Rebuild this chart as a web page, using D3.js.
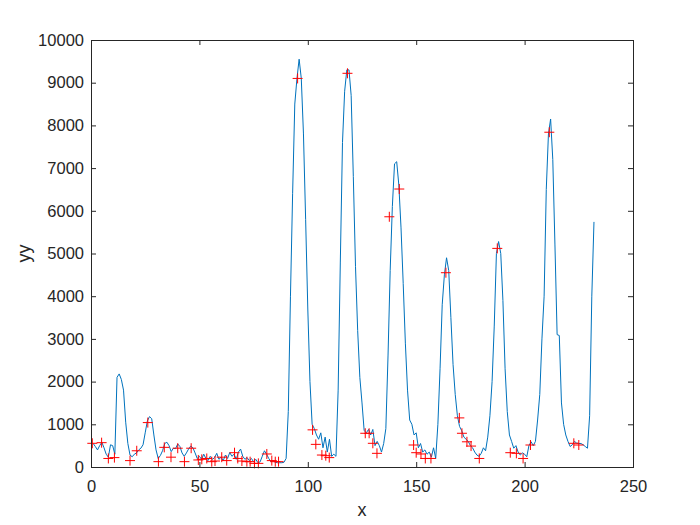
<!DOCTYPE html>
<html>
<head>
<meta charset="utf-8">
<script src="https://cdn.jsdelivr.net/npm/d3@7"></script>
<style>
  html, body { margin: 0; padding: 0; background: #ffffff; }
  svg { display: block; }
  text { font-family: "Liberation Sans", Arial, Helvetica, sans-serif; }
</style>
</head>
<body>
<svg id="chart" width="700" height="525"></svg>
<script>
// ---- data ----
const yy = [
  550,480,400,500,580,450,300,230,520,500,
  300,2100,2180,2050,1800,1050,550,280,240,300,
  330,400,440,520,800,1080,1180,1130,750,400,
  200,270,380,550,580,500,360,440,430,540,
  480,330,250,330,420,490,450,330,200,250,
  180,300,200,150,250,180,220,320,180,230,
  150,280,200,340,250,300,180,350,420,250,
  180,220,150,200,120,180,100,120,250,380,
  300,200,120,150,110,100,100,100,110,200,
  1300,4000,6400,8500,9100,9550,9100,7800,5800,3700,
  2000,1000,900,750,650,800,450,700,350,650,
  250,300,250,1800,4800,7600,8800,9300,9300,8700,
  6800,4700,3200,2100,1500,850,800,880,750,880,
  500,600,500,350,550,900,2600,4600,6100,7100,
  7150,6600,5600,4300,2900,1800,1100,1000,750,800,
  450,550,350,400,300,350,230,450,200,1000,
  2300,3800,4500,4900,4600,3500,2400,1700,1200,950,
  850,700,650,600,500,450,350,280,250,320,
  450,380,700,1200,2000,3300,5000,5280,5000,3900,
  2300,1300,750,600,440,500,350,280,330,300,
  240,500,590,500,600,1100,1700,3000,4000,6500,
  7800,8150,7200,5200,3100,3080,1500,1000,750,600,
  480,520,600,560,550,550,520,480,440,1200,
  4000,5740
];
const xs = d3.range(1, yy.length + 1);

const peakX = [
  0.6, 4.9, 8.0, 10.8, 18.0, 21.1, 26.2, 31.1, 33.8, 36.9, 40.0, 43.1, 46.2,
  49.5, 51.1, 53.4, 55.7, 57.2, 60.3, 62.6, 66.2, 67.7, 69.6, 71.9, 73.4, 75.4, 77.2,
  81.1, 83.4, 85.0, 86.5,
  95.3, 102.2, 103.7, 106.5, 108.3, 109.9,
  118.3, 126.5, 128.3, 130.0, 131.9,
  137.6, 142.2, 148.8, 150.0, 152.2, 154.2, 156.8,
  163.7, 169.9, 171.1, 173.4, 175.3, 179.1,
  187.4, 193.4, 196.2, 199.3, 202.7,
  211.4, 222.7, 225.0
];
const peakY = [
  555, 570, 200, 220, 150, 380, 1040, 125, 460, 230, 440, 125, 440,
  165, 180, 200, 125, 140, 230, 150, 335, 200, 140, 125, 125, 85, 85,
  305, 150, 125, 125,
  9100, 870, 530, 280, 265, 220,
  9220, 790, 790, 555, 320,
  5860, 6510, 515, 335, 305, 200, 200,
  4550, 1150, 790, 590, 490, 200,
  5120, 335, 320, 200, 515,
  7840, 555, 515
];

const xTicks = [0, 50, 100, 150, 200, 250];
const yTicks = [0, 1000, 2000, 3000, 4000, 5000, 6000, 7000, 8000, 9000, 10000];
const xLabel = "x";
const yLabel = "yy";

// ---- layout ----
const L = 91, R = 633, T = 40, B = 467;
const axisColor = "#262626";
const svg = d3.select("#chart");

const x = d3.scaleLinear().domain([0, 250]).range([L, R]);
const y = d3.scaleLinear().domain([0, 10000]).range([B, T]);

svg.append("rect").attr("width", 700).attr("height", 525).attr("fill", "#ffffff");

// line
const line = d3.line().x((d, i) => x(xs[i])).y(d => y(d));
svg.append("path")
  .datum(yy)
  .attr("d", line)
  .attr("fill", "none")
  .attr("stroke", "#0072BD")
  .attr("stroke-width", 1)
  .attr("stroke-linejoin", "round");

// markers
svg.append("g").selectAll("path")
  .data(peakX)
  .join("path")
  .attr("transform", (d, i) => `translate(${x(d)},${y(peakY[i])})`)
  .attr("d", "M-5,0H5M0,-5V5")
  .attr("stroke", "#FF0000")
  .attr("stroke-width", 1)
  .attr("fill", "none");

// axes
const fmt = d3.format("d");
function styleAxis(g) {
  g.select(".domain").remove();
  g.selectAll("line").attr("stroke", axisColor);
  g.selectAll("text").attr("fill", axisColor).style("font-size", "16.5px");
}
svg.append("g").attr("transform", `translate(0,${B})`)
  .call(d3.axisBottom(x).tickValues(xTicks).tickFormat(fmt).tickSizeInner(-5).tickSizeOuter(0).tickPadding(13))
  .call(styleAxis);
svg.append("g").attr("transform", `translate(0,${T})`)
  .call(d3.axisTop(x).tickValues(xTicks).tickSizeInner(-5).tickSizeOuter(0).tickFormat(""))
  .call(styleAxis);
svg.append("g").attr("transform", `translate(${L},0)`)
  .call(d3.axisLeft(y).tickValues(yTicks).tickFormat(fmt).tickSizeInner(-5).tickSizeOuter(0).tickPadding(7))
  .call(styleAxis);
svg.append("g").attr("transform", `translate(${R},0)`)
  .call(d3.axisRight(y).tickValues(yTicks).tickSizeInner(-5).tickSizeOuter(0).tickFormat(""))
  .call(styleAxis);

svg.append("rect")
  .attr("x", L).attr("y", T).attr("width", R - L).attr("height", B - T)
  .attr("fill", "none").attr("stroke", axisColor).attr("stroke-width", 1)
  .attr("shape-rendering", "crispEdges");

svg.append("text")
  .attr("x", (L + R) / 2).attr("y", 516)
  .attr("text-anchor", "middle")
  .attr("fill", axisColor)
  .style("font-size", "18px")
  .text(xLabel);
svg.append("text")
  .attr("transform", `translate(30,${(T + B) / 2}) rotate(-90)`)
  .attr("text-anchor", "middle")
  .attr("fill", axisColor)
  .style("font-size", "18px")
  .text(yLabel);
</script>
</body>
</html>
